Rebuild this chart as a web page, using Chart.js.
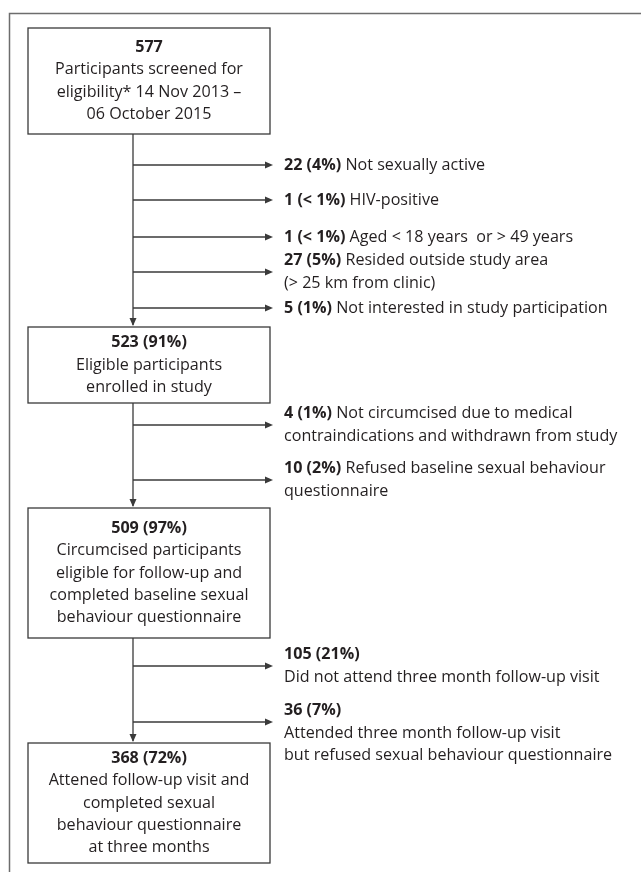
<!DOCTYPE html>
<html>
<head>
<meta charset="utf-8">
<script src="https://cdn.jsdelivr.net/npm/chart.js@4"></script>
<style>
  body { margin: 0; background: #fff; }
  #flow { display: block; }
</style>
</head>
<body>
<canvas id="flow" width="641" height="872"></canvas>
<script>
// participant flow numbers
const nodeCounts = [577, 523, 509, 368];
const nodePcts = ['', '91%', '97%', '72%'];
const nodeLabels = [
    'Participants screened for\neligibility* 14 Nov 2013 –\n06 October 2015',
    'Eligible participants\nenrolled in study',
    'Circumcised participants\neligible for follow-up and\ncompleted baseline sexual\nbehaviour questionnaire',
    'Attened follow-up visit and\ncompleted sexual\nbehaviour questionnaire\nat three months'
];

// exclusions, each one branching off the trunk below a node
const exclCounts = [22, 1, 1, 27, 5, 4, 10, 105, 36];
const exclPcts = ['4%', '< 1%', '< 1%', '5%', '1%', '1%', '2%', '21%', '7%'];
const exclReasons = [
    ' Not sexually active',
    ' HIV-positive',
    ' Aged < 18 years  or > 49 years',
    ' Resided outside study area\n(> 25 km from clinic)',
    ' Not interested in study participation',
    ' Not circumcised due to medical\ncontraindications and withdrawn from study',
    ' Refused baseline sexual behaviour\nquestionnaire',
    '\nDid not attend three month follow-up visit',
    '\nAttended three month follow-up visit\nbut refused sexual behaviour questionnaire'
];

// layout (canvas units)
const layout = {
    boxLeft: 28, boxRight: 270,
    boxTop: [28, 327, 508, 743],
    boxBottom: [134, 403, 638, 863],
    trunkX: 133,
    branchY: [165, 200, 237, 272, 308, 425, 480, 666, 722],
    arrowTipX: 273,
    labelX: 284,
    lineH: 22.3
};

const FONT = '"Open Sans", sans-serif';
let SIZE = 16;
const INK = '#231f20';
const LINE = '#3a3a3a';

const flowPlugin = {
    id: 'flow',
    afterDraw(chart) {
        const ctx = chart.ctx;
        const sx = chart.scales.x, sy = chart.scales.y;
        const X = v => sx.getPixelForValue(v);
        const Y = v => sy.getPixelForValue(v);

        ctx.save();

        // fit the font so a box line has the width it has in the source
        ctx.font = '16px ' + FONT;
        SIZE = 16 * 188 / ctx.measureText('Participants screened for').width;

        // outer frame (top and left only)
        ctx.strokeStyle = '#6d6d6d';
        ctx.lineWidth = 1.5;
        ctx.beginPath();
        ctx.moveTo(X(9.5), Y(872));
        ctx.lineTo(X(9.5), Y(13.5));
        ctx.lineTo(X(641), Y(13.5));
        ctx.stroke();

        function arrowHead(x, y, dir) {
            ctx.fillStyle = LINE;
            ctx.beginPath();
            if (dir === 'right') {
                ctx.moveTo(x, y);
                ctx.lineTo(x - 8, y - 3.5);
                ctx.lineTo(x - 8, y + 3.5);
            } else {
                ctx.moveTo(x, y);
                ctx.lineTo(x - 3.5, y - 8);
                ctx.lineTo(x + 3.5, y - 8);
            }
            ctx.closePath();
            ctx.fill();
        }

        function mixedLine(bold, rest, x, y, align) {
            ctx.font = 'bold ' + SIZE + 'px ' + FONT;
            const wb = ctx.measureText(bold).width;
            ctx.font = SIZE + 'px ' + FONT;
            const wr = ctx.measureText(rest).width;
            let start = x;
            if (align === 'center') start = x - (wb + wr) / 2;
            ctx.textAlign = 'left';
            ctx.font = 'bold ' + SIZE + 'px ' + FONT;
            ctx.fillText(bold, start, y);
            ctx.font = SIZE + 'px ' + FONT;
            ctx.fillText(rest, start + wb, y);
        }

        ctx.fillStyle = INK;
        ctx.textBaseline = 'middle';

        // boxes
        const cx = (layout.boxLeft + layout.boxRight) / 2;
        nodeCounts.forEach((n, i) => {
            const top = layout.boxTop[i], bot = layout.boxBottom[i];
            ctx.strokeStyle = LINE;
            ctx.lineWidth = 1.3;
            ctx.strokeRect(X(layout.boxLeft), Y(top), X(layout.boxRight) - X(layout.boxLeft), Y(bot) - Y(top));

            const lines = [n + (nodePcts[i] ? ' (' + nodePcts[i] + ')' : '')].concat(nodeLabels[i].split('\n'));
            const mid = (top + bot) / 2;
            const first = mid - (lines.length - 1) * layout.lineH / 2;
            ctx.fillStyle = INK;
            lines.forEach((t, k) => {
                const y = Y(first + k * layout.lineH);
                if (k === 0) mixedLine(t, '', X(cx), y, 'center');
                else {
                    ctx.font = SIZE + 'px ' + FONT;
                    ctx.textAlign = 'center';
                    ctx.fillText(t, X(cx), y);
                }
            });

            // trunk down to next box
            if (i < nodeCounts.length - 1) {
                ctx.strokeStyle = LINE;
                ctx.lineWidth = 1.3;
                ctx.beginPath();
                ctx.moveTo(X(layout.trunkX), Y(bot));
                ctx.lineTo(X(layout.trunkX), Y(layout.boxTop[i + 1]) - 2);
                ctx.stroke();
                arrowHead(X(layout.trunkX), Y(layout.boxTop[i + 1]) - 1, 'down');
            }
        });

        // exclusion branches
        exclCounts.forEach((n, j) => {
            const yA = layout.branchY[j];
            ctx.strokeStyle = LINE;
            ctx.lineWidth = 1.3;
            ctx.beginPath();
            ctx.moveTo(X(layout.trunkX), Y(yA));
            ctx.lineTo(X(layout.arrowTipX) - 3, Y(yA));
            ctx.stroke();
            arrowHead(X(layout.arrowTipX), Y(yA), 'right');

            const parts = exclReasons[j].split('\n');
            const bold = n + ' (' + exclPcts[j] + ')';
            const rows = parts.length;
            const first = yA - (Math.min(rows, 2) - 1) * layout.lineH / 2;
            ctx.fillStyle = INK;
            parts.forEach((t, k) => {
                const y = Y(first + k * layout.lineH);
                if (k === 0) mixedLine(bold, t, X(layout.labelX), y, 'left');
                else {
                    ctx.font = SIZE + 'px ' + FONT;
                    ctx.textAlign = 'left';
                    ctx.fillText(t, X(layout.labelX), y);
                }
            });
        });

        ctx.restore();
    }
};

new Chart(document.getElementById('flow'), {
    type: 'scatter',
    data: { datasets: [{ data: [], pointRadius: 0 }] },
    options: {
        responsive: false,
        animation: false,
        layout: { padding: 0 },
        plugins: { legend: { display: false }, tooltip: { enabled: false } },
        scales: {
            x: { type: 'linear', min: 0, max: 641, display: false },
            y: { type: 'linear', min: 0, max: 872, reverse: true, display: false }
        }
    },
    plugins: [flowPlugin]
});
</script>
</body>
</html>
